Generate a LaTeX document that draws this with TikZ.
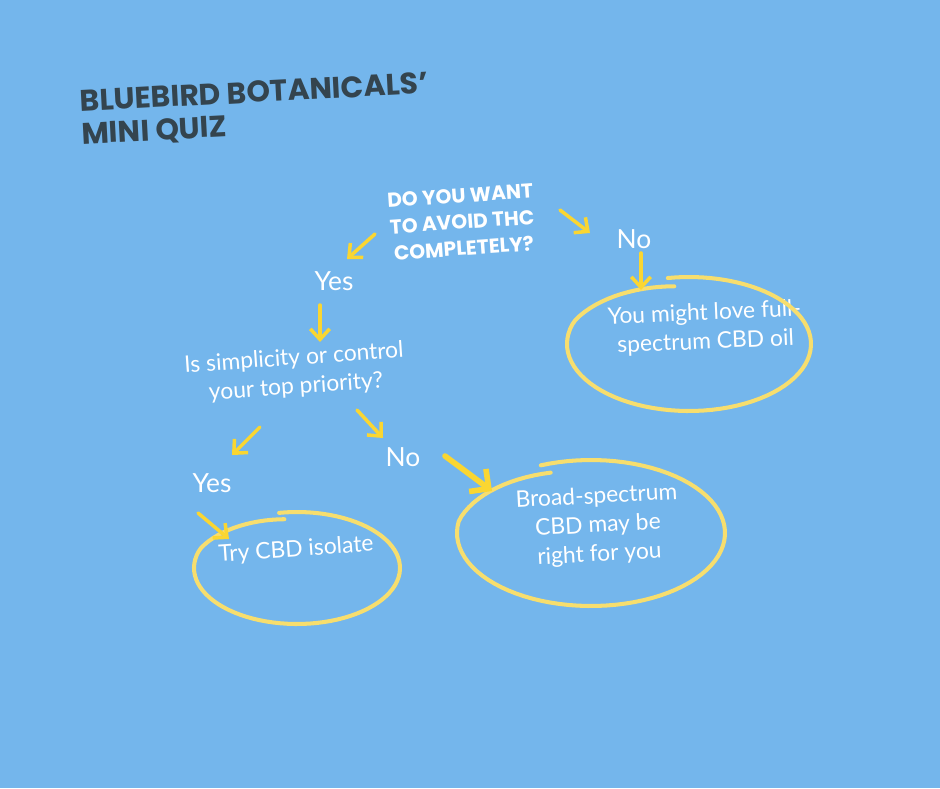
\documentclass[tikz,border=0pt]{standalone}
\usepackage{fontspec}
\setmainfont{Lato}
\newfontfamily\headfont{Poppins}
\usetikzlibrary{arrows.meta}
\definecolor{skyblue}{RGB}{116,182,236}
\definecolor{arrowyellow}{RGB}{250,214,50}
\definecolor{loopyellow}{RGB}{247,222,110}
\definecolor{slate}{RGB}{52,68,78}
\tikzset{
  answer/.style={text=white, align=center, font=\fontsize{13}{16.5}\selectfont},
  yesno/.style={text=white, font=\fontsize{15}{18}\selectfont},
  yarrow/.style={draw=arrowyellow, line width=2pt, line cap=round, line join=round,
    -{Straight Barb[length=6pt,width=11pt]}},
  bigarrow/.style={yarrow, line width=3.2pt, -{Straight Barb[length=8pt,width=16pt]}},
  loopline/.style={draw=loopyellow, line width=2.3pt, line cap=round, line join=round}
}
\begin{document}
\begin{tikzpicture}[x=0.02cm, y=-0.02cm]
\fill[skyblue] (0,0) rectangle (940,788);
% title and questions
\node[text=slate, align=left, rotate=3, font=\headfont\bfseries\fontsize{17}{18.5}\selectfont] (title) at (255,110) {BLUEBIRD BOTANICALS’\\MINI QUIZ};
\node[text=white, align=center, rotate=4, font=\headfont\bfseries\fontsize{11.5}{15}\selectfont] (Q1) at (462,222) {DO YOU WANT\\TO AVOID THC\\COMPLETELY?};
\node[answer, rotate=4] (Q2) at (295,373) {Is simplicity or control\\your top priority?};
% answers
\node[yesno] (Y1) at (334,281) {Yes};
\node[yesno] (N1) at (634,239) {No};
\node[yesno] (Y2) at (212,483) {Yes};
\node[yesno] (N2) at (403,457) {No};
% results
\node[answer, rotate=4] (R1) at (296,550) {Try CBD isolate};
\node[answer, rotate=3] (R2) at (598,526) {Broad-spectrum\\CBD may be\\right for you};
\node[answer, rotate=2.5] (R3) at (705,328) {You might love full-\\spectrum CBD oil};
% hand drawn loops round the results
\draw[loopline] plot[domain=-262:100, samples=90] ({297+(1-0.12*max(0,-200-\x)/62)*103*cos(\x)}, {568-(1-0.12*max(0,-200-\x)/62)*56*sin(\x)});
\draw[loopline] plot[domain=-250:112, samples=90] ({591+(1-0.12*max(0,-190-\x)/60)*134*cos(\x)}, {533-(1-0.12*max(0,-190-\x)/60)*73*sin(\x)});
\draw[loopline] plot[domain=-262:100, samples=90] ({689+(1-0.13*max(0,-200-\x)/62)*122*cos(\x)}, {344-(1-0.13*max(0,-200-\x)/62)*67*sin(\x)});
% arrow ends
\coordinate (a1s) at (375,234); \coordinate (a1e) at (347,259);
\coordinate (a2s) at (560,210); \coordinate (a2e) at (590,233);
\coordinate (a3s) at (641,253); \coordinate (a3e) at (641,290);
\coordinate (a4s) at (320,305); \coordinate (a4e) at (320,342);
\coordinate (a5s) at (260,427); \coordinate (a5e) at (232,455);
\coordinate (a6s) at (357,410); \coordinate (a6e) at (383,438);
\coordinate (a7s) at (445,456); \coordinate (a7e) at (492,491);
\coordinate (a8s) at (198,513); \coordinate (a8e) at (229,539);
\draw[yarrow] (a1s) -- (a1e);
\draw[yarrow] (a2s) -- (a2e);
\draw[yarrow] (a3s) -- (a3e);
\draw[yarrow] (a4s) -- (a4e);
\draw[yarrow] (a5s) -- (a5e);
\draw[yarrow] (a6s) -- (a6e);
\draw[bigarrow] (a7s) -- (a7e);
\draw[yarrow] (a8s) -- (a8e);
\end{tikzpicture}
\end{document}
